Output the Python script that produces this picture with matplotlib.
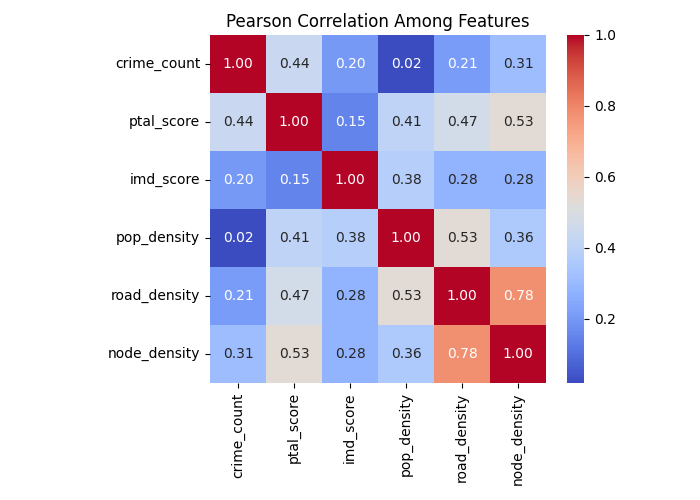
import numpy as np
import pandas as pd
import seaborn as sns
import matplotlib
matplotlib.use("Agg")
import matplotlib.pyplot as plt

features = ["crime_count", "ptal_score", "imd_score", "pop_density", "road_density", "node_density"]
corr_values = [
    [1.00, 0.44, 0.20, 0.02, 0.21, 0.31],
    [0.44, 1.00, 0.15, 0.41, 0.47, 0.53],
    [0.20, 0.15, 1.00, 0.38, 0.28, 0.28],
    [0.02, 0.41, 0.38, 1.00, 0.53, 0.36],
    [0.21, 0.47, 0.28, 0.53, 1.00, 0.78],
    [0.31, 0.53, 0.28, 0.36, 0.78, 1.00],
]

corr = pd.DataFrame(np.array(corr_values), index=features, columns=features)

fig = plt.figure(figsize=(7, 5), dpi=100)
sns.heatmap(corr, annot=True, fmt=".2f", cmap="coolwarm")
plt.title("Pearson Correlation Among Features")
plt.subplots_adjust(bottom=0.235, top=0.93, left=0.3, right=0.9)
plt.savefig("out.png")
